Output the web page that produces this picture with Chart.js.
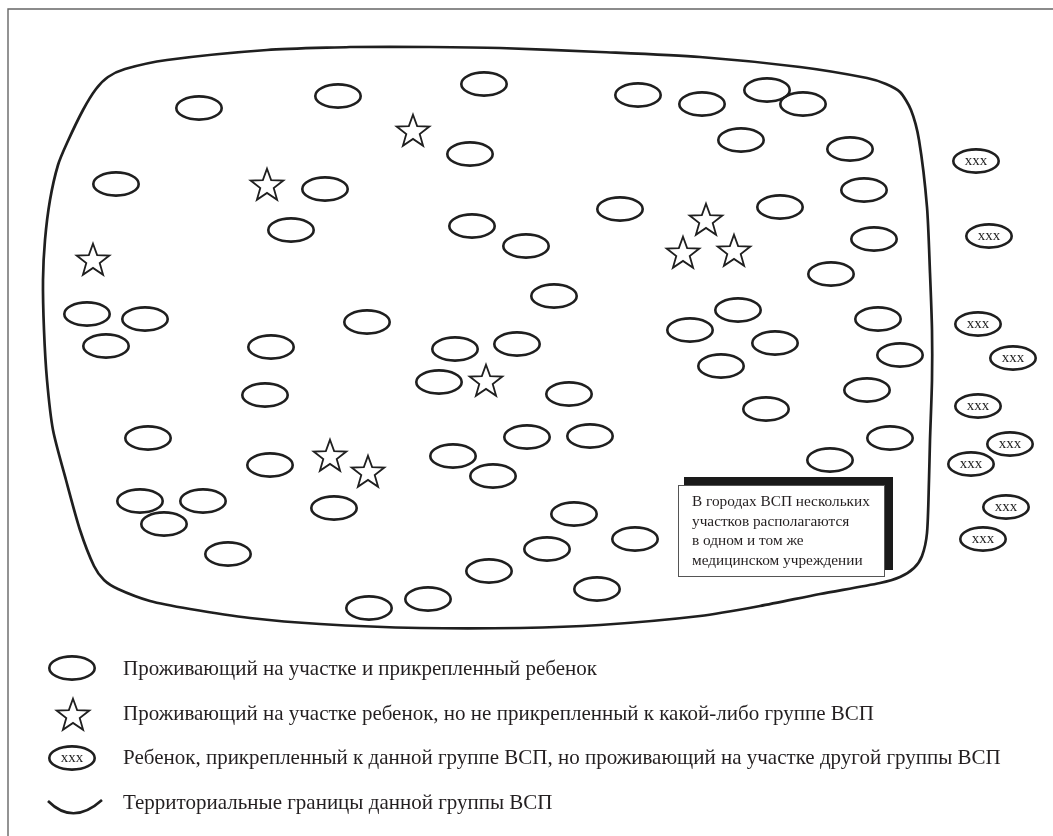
<!DOCTYPE html>
<html>
<head>
<meta charset="utf-8">
<script src="https://cdn.jsdelivr.net/npm/chart.js@4/dist/chart.umd.min.js"></script>
<style>
html,body{margin:0;padding:0;background:#fff;overflow:hidden}
canvas{display:block}
</style>
</head>
<body>
<canvas id="c" width="1053" height="836" style="width:1053px;height:836px"></canvas>
<script>
// Children living in the district and attached (plain ellipses)
const childX = [199,338,484,638,702,767,803,741,850,470,116,325,291,620,780,864,472,526,874,831,554,87,145,106,367,271,690,738,878,455,517,775,721,900,265,439,569,867,766,148,270,527,590,890,453,493,830,140,203,164,334,228,574,635,547,489,597,428,369];
const childY = [108,96,84,95,104,90,104,140,149,154,184,189,230,209,207,190,226,246,239,274,296,314,319,346,322,347,330,310,319,349,344,343,366,355,395,382,394,390,409,438,465,437,436,438,456,476,460,501,501,524,508,554,514,539,549,571,589,599,608];

// Children living in the district but not attached (stars)
const starX = [413,267,93,706,683,734,486,330,368];
const starY = [130,184,259,219,252,250,380,455,471];

// Children attached but living in another group's district (xxx ellipses)
const outsideX = [976,989,978,1013,978,1010,971,1006,983];
const outsideY = [161,236,324,358,406,444,464,507,539];
const outsideLabel = 'xxx';

// Territorial boundary of the group
const boundaryX = [350,430,500,600,700,800,867,886,900,911,919,927,930,932,932,930,929,927,922,914,900,880,820,760,700,600,520,420,320,250,190,150,118,104,94,80,66,53,47,44,43,45,50,58,67,83,96,108,125,167,267,350];
const boundaryY = [47,47,48,52,57,67,78,84,92,110,140,207,273,330,380,440,480,533,556,568,577,583,594,606,616,625,628,628,624,618,609,601,589,580,566,530,480,430,380,330,280,240,200,165,143,110,89,77,69,60,50,47];

// Texts
const noteLines = ['В городах ВСП нескольких','участков располагаются','в одном и том же','медицинском учреждении'];
const legendLabels = [
  'Проживающий на участке и прикрепленный ребенок',
  'Проживающий на участке ребенок, но не прикрепленный к какой-либо группе ВСП',
  'Ребенок, прикрепленный к данной группе ВСП, но проживающий на участке другой группы ВСП',
  'Территориальные границы данной группы ВСП'
];

const INK = '#1f1f1f';
const SERIF = '"Liberation Serif", "Times New Roman", serif';

function makeEllipse() {
  const c = document.createElement('canvas');
  c.width = 52; c.height = 30;
  const g = c.getContext('2d');
  g.lineWidth = 2.6;
  g.strokeStyle = INK;
  g.beginPath();
  g.ellipse(26, 15, 22.7, 11.6, 0, 0, Math.PI * 2);
  g.stroke();
  return c;
}
function makeStar() {
  const c = document.createElement('canvas');
  c.width = 46; c.height = 46;
  const g = c.getContext('2d');
  const R = 17.2, r = R * 0.41;
  const cx = 23, cy = 23 + 0.0955 * (R + 2.5);
  g.lineWidth = 1.8;
  g.strokeStyle = INK;
  g.fillStyle = '#fff';
  g.lineJoin = 'miter';
  g.miterLimit = 10;
  g.beginPath();
  for (let i = 0; i < 10; i++) {
    const a = -Math.PI / 2 + i * Math.PI / 5;
    const rr = i % 2 ? r : R;
    const px = cx + rr * Math.cos(a), py = cy + rr * Math.sin(a);
    if (i === 0) g.moveTo(px, py); else g.lineTo(px, py);
  }
  g.closePath();
  g.fill();
  g.stroke();
  return c;
}
const ellipseImg = makeEllipse();
const starImg = makeStar();

const zip = (xs, ys) => xs.map((x, i) => ({x: x, y: ys[i]}));

const decorPlugin = {
  id: 'decor',
  beforeDraw(chart) {
    const ctx = chart.ctx;
    ctx.save();
    ctx.fillStyle = '#fff';
    ctx.fillRect(0, 0, chart.width, chart.height);
    const xs = chart.scales.x, ys = chart.scales.y;
    ctx.strokeStyle = '#666';
    ctx.lineWidth = 1.4;
    ctx.beginPath();
    ctx.moveTo(xs.getPixelForValue(1053), ys.getPixelForValue(9));
    ctx.lineTo(xs.getPixelForValue(8), ys.getPixelForValue(9));
    ctx.lineTo(xs.getPixelForValue(8), ys.getPixelForValue(836));
    ctx.stroke();
    ctx.restore();
  },
  afterDatasetsDraw(chart) {
    const ctx = chart.ctx;
    const xs = chart.scales.x, ys = chart.scales.y;
    const X = v => xs.getPixelForValue(v), Y = v => ys.getPixelForValue(v);
    ctx.save();
    const meta = chart.getDatasetMeta(2);
    ctx.fillStyle = INK;
    ctx.font = '15px ' + SERIF;
    ctx.textAlign = 'center';
    ctx.textBaseline = 'alphabetic';
    meta.data.forEach(pt => ctx.fillText(outsideLabel, pt.x, pt.y + 3.5));

    ctx.fillStyle = '#1a1a1a';
    ctx.fillRect(X(684), Y(477), X(893) - X(684), Y(570) - Y(477));
    ctx.fillStyle = '#fff';
    ctx.fillRect(X(678), Y(485), X(885) - X(678), Y(577) - Y(485));
    ctx.strokeStyle = '#555';
    ctx.lineWidth = 1;
    ctx.strokeRect(X(678) + 0.5, Y(485) + 0.5, X(885) - X(678) - 1, Y(577) - Y(485) - 1);
    ctx.fillStyle = '#231f20';
    ctx.font = '15.3px ' + SERIF;
    ctx.textAlign = 'left';
    noteLines.forEach((t, i) => ctx.fillText(t, X(692), Y(506 + i * 19.5)));

    const rowsY = [668, 714, 758, 806];
    const textBase = [675, 719.5, 764, 808.5];
    ctx.drawImage(ellipseImg, X(72) - 26, Y(rowsY[0]) - 15);
    ctx.drawImage(starImg, X(73) - 23, Y(rowsY[1]) - 23);
    ctx.drawImage(ellipseImg, X(72) - 26, Y(rowsY[2]) - 15);
    ctx.fillStyle = INK;
    ctx.font = '15px ' + SERIF;
    ctx.textAlign = 'center';
    ctx.fillText(outsideLabel, X(72), Y(rowsY[2]) + 3.5);
    ctx.strokeStyle = INK;
    ctx.lineWidth = 2.6;
    ctx.beginPath();
    ctx.moveTo(X(48), Y(801));
    ctx.quadraticCurveTo(X(73), Y(826), X(102), Y(800));
    ctx.stroke();
    ctx.fillStyle = '#231f20';
    ctx.font = '21px ' + SERIF;
    ctx.textAlign = 'left';
    legendLabels.forEach((t, i) => ctx.fillText(t, X(123), Y(textBase[i])));
    ctx.restore();
  }
};

new Chart(document.getElementById('c'), {
  type: 'scatter',
  data: {
    datasets: [
      {label: legendLabels[0], data: zip(childX, childY), pointStyle: ellipseImg, pointRadius: 5, order: 1},
      {label: legendLabels[1], data: zip(starX, starY), pointStyle: starImg, pointRadius: 5, order: 1},
      {label: legendLabels[2], data: zip(outsideX, outsideY), pointStyle: ellipseImg, pointRadius: 5, order: 1},
      {
        label: legendLabels[3],
        data: zip(boundaryX, boundaryY),
        showLine: true,
        pointRadius: 0,
        borderColor: INK,
        borderWidth: 2.7,
        tension: 0.25,
        fill: false,
        order: 2
      }
    ]
  },
  options: {
    responsive: false,
    animation: false,
    events: [],
    layout: {padding: 0, autoPadding: false},
    scales: {
      x: {type: 'linear', min: 0, max: 1053, display: false},
      y: {type: 'linear', min: 0, max: 836, reverse: true, display: false}
    },
    plugins: {legend: {display: false}, tooltip: {enabled: false}}
  },
  plugins: [decorPlugin]
});
</script>
</body>
</html>
